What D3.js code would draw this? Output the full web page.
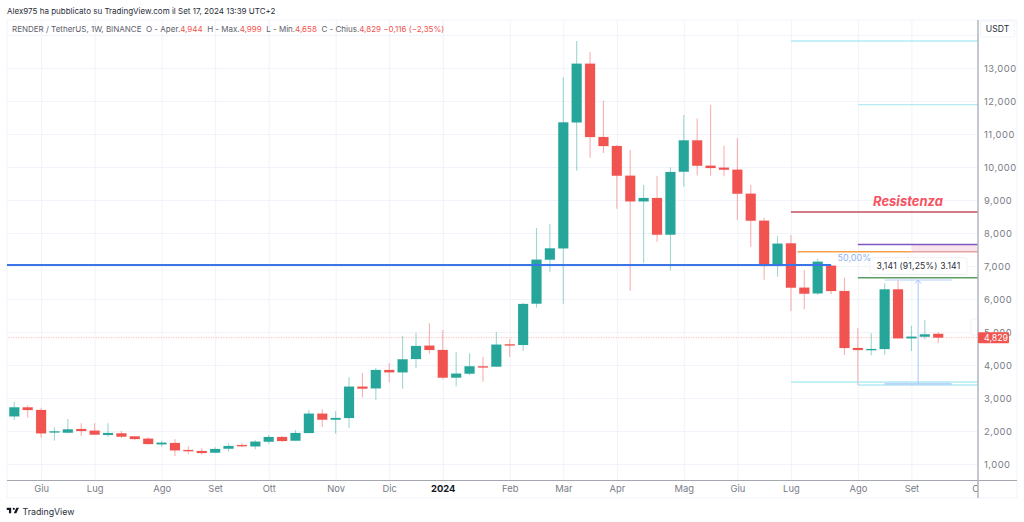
<!DOCTYPE html>
<html>
<head>
<meta charset="utf-8">
<script src="https://cdn.jsdelivr.net/npm/d3@7"></script>
<style>
  html, body { margin: 0; padding: 0; background: #fff; overflow: hidden; }
  svg { display: block; }
  text { font-family: Inter, "Liberation Sans", sans-serif; }
  .grid line { stroke: #f0f3fa; }
  .grid path { display: none; }
  .axis path, .axis line { display: none; }
  .axis text { fill: #787b86; font-size: 9.4px; letter-spacing: 0.5px; font-family: Inter, sans-serif; }
</style>
</head>
<body>
<svg id="svg" width="1024" height="522"></svg>
<script>
// weekly candles
const opens = [2444,2717,2636,1970,1949,2060,2010,1880,1929,1838,1767,1596,1636,1424,1394,1343,1464,1575,1535,1676,1818,1707,1939,2525,2343,2394,3344,3293,3849,3778,4182,4586,4455,3617,3738,3960,3950,4627,4607,5859,7191,7534,11352,13130,10908,10635,9736,8959,9060,7949,9858,10807,10039,9979,9918,9191,8373,7000,7686,6343,6171,7009,6242,4515,4464,4484,6292,4808,4858,4944];
const closes = [2717,2636,1929,1990,2050,2000,1889,1939,1828,1757,1606,1646,1414,1394,1333,1454,1545,1545,1676,1818,1697,1939,2525,2343,2394,3344,3283,3849,3778,4172,4576,4455,3617,3738,3960,3930,4617,4607,5849,7192,7534,11352,13130,10908,10635,9736,8959,9060,7949,9848,10807,10039,9969,9918,9191,8373,7000,7676,6343,6161,7130,6242,4515,4454,4485,6292,4808,4858,4929,4829];
const highs = [2888,2777,2707,2110,2363,2232,2232,2232,2000,1838,1808,1707,1757,1535,1475,1505,1626,1646,1717,1889,1848,2030,2636,2656,2606,3627,3758,3920,4061,4879,4980,5263,5061,4384,4354,4253,5000,4788,5889,8151,8262,12716,13817,13483,12009,10665,10514,9453,9726,9989,11574,11473,11877,10645,10868,9453,8464,7908,7938,6878,7231,7030,6646,5121,4959,6474,6575,5191,5363,4999];
const lows = [2333,2404,1798,1707,1929,1848,1878,1828,1798,1717,1586,1525,1242,1303,1293,1333,1374,1505,1444,1606,1676,1707,1939,2121,1919,2092,3021,2950,3475,3283,3910,4344,3566,3354,3698,3495,3950,4243,4435,5738,6807,5858,9888,10282,10423,8736,6252,7100,7737,6858,9403,9746,9736,9716,8393,7585,6585,6676,5636,5686,6120,6141,4302,3394,4292,4313,4808,4424,4777,4658];

// time axis: week index of each month label
const monthWeeks = [2,6,11,15,19,24,28,32,37,41,45,50,54,58,63,67,72];
const monthLabels = ['Giu','Lug','Ago','Set','Ott','Nov','Dic','2024','Feb','Mar','Apr','Mag','Giu','Lug','Ago','Set','Ott'];
const priceTicks = [1000,2000,3000,4000,5000,6000,7000,8000,9000,10000,11000,12000,13000];
const priceGrid = [1000,2000,3000,4000,5000,6000,7000,8000,9000,10000,11000,12000,13000,14000];

// drawn levels: [price, from week, to week]
const fibLevels = [[13818,58,72],[11893,63,72],[3485,58,72],[3394,63,72]];
const resistLevel = [8636,58,72];
const purpleLevel = [7650,63,72];
const orangeLevel = [7433,58.5,67];
const blueLevel = [7030,-1,61];
const greenLevel = [6645,63,72];
const pinkZone = [7650,7433,67,72];
const measure = {top: 6575, bottom: 3434, from: 65, to: 70, at: 67.5};
const lastPrice = 4829;

const plot = {left: 7, right: 978, top: 20, bottom: 480.5, outer: 1017, foot: 498};

const svg = d3.select('#svg');
const x = d3.scaleLinear().domain([0,69]).range([14.3,938.2]);
const y = d3.scaleLinear().domain([1000,13000]).range([464,68]);
const fmt = d3.format(',');

svg.append('defs').append('clipPath').attr('id','plotclip')
  .append('rect').attr('x',plot.left).attr('y',plot.top)
  .attr('width',plot.right-plot.left).attr('height',plot.foot-plot.top);

// frame
svg.append('rect').attr('x',plot.left).attr('y',plot.top)
  .attr('width',plot.outer-plot.left).attr('height',plot.foot-plot.top)
  .attr('fill','#fff').attr('stroke','#f0f3fa');

// grid
const g = svg.append('g').attr('clip-path','url(#plotclip)');
g.append('g').attr('class','grid')
  .attr('transform',`translate(0,${plot.bottom})`)
  .call(d3.axisBottom(x).tickValues(monthWeeks).tickSize(-(plot.bottom-plot.top)).tickFormat(''));
g.append('g').attr('class','grid')
  .attr('transform',`translate(${plot.left},0)`)
  .call(d3.axisRight(y).tickValues(priceGrid).tickSize(plot.right-plot.left).tickFormat(''));

// last price dotted line
function hline(price, a, b, color, w) {
  return g.append('line')
    .attr('x1',x(a)).attr('x2',x(b)).attr('y1',y(price)).attr('y2',y(price))
    .attr('stroke',color).attr('stroke-width',w);
}
hline(lastPrice,-1,72,'#f7b3b1',1).attr('stroke-dasharray','1 1.5');

// candles
const weeks = d3.range(opens.length);
const col = i => closes[i] >= opens[i] ? '#26a69a' : '#f05350';
g.append('g').selectAll('line').data(weeks).join('line')
  .attr('x1',x).attr('x2',x)
  .attr('y1',i=>y(highs[i])).attr('y2',i=>y(lows[i]))
  .attr('stroke',col).attr('stroke-opacity',0.45).attr('stroke-width',1.1);
g.append('g').selectAll('rect').data(weeks).join('rect')
  .attr('x',i=>x(i)-5).attr('width',10)
  .attr('y',i=>y(Math.max(opens[i],closes[i])))
  .attr('height',i=>Math.max(1.2,Math.abs(y(opens[i])-y(closes[i]))))
  .attr('fill',col).attr('stroke',col).attr('stroke-opacity',0.2).attr('stroke-width',0.8);

// drawings
fibLevels.forEach(l => hline(l[0],l[1],l[2],'#b2ebf2',1.3));
g.append('rect')
  .attr('x',x(pinkZone[2])).attr('width',x(pinkZone[3])-x(pinkZone[2]))
  .attr('y',y(pinkZone[0])).attr('height',y(pinkZone[1])-y(pinkZone[0]))
  .attr('fill','#f9e3ec');
hline(resistLevel[0],resistLevel[1],resistLevel[2],'#c2505f',1.6);
hline(purpleLevel[0],purpleLevel[1],purpleLevel[2],'#7e57c2',1.4);
hline(orangeLevel[0],orangeLevel[1],orangeLevel[2],'#f5a14a',1.6);
hline(orangeLevel[0],pinkZone[2],pinkZone[3],'#e5a3a0',1.6);
hline(greenLevel[0],greenLevel[1],greenLevel[2],'#5d9c63',1.4);
hline(blueLevel[0],blueLevel[1],blueLevel[2],'#3b76e8',2.2);

// long/short measure tool
hline(measure.top,measure.from,measure.to,'#b5d0fb',1);
g.append('rect')
  .attr('x',x(measure.from)).attr('width',x(measure.to)-x(measure.from))
  .attr('y',y(measure.bottom)-1).attr('height',2.4).attr('fill','#bcd6f8');
g.append('line')
  .attr('x1',x(measure.at)).attr('x2',x(measure.at))
  .attr('y1',y(measure.bottom)).attr('y2',y(measure.top))
  .attr('stroke','#a9c6fa').attr('stroke-width',1);
g.append('path')
  .attr('d',d3.line()([[x(measure.at)-3,y(measure.top)+3.5],[x(measure.at),y(measure.top)],[x(measure.at)+3,y(measure.top)+3.5]]))
  .attr('fill','none').attr('stroke','#a9c6fa');

// measure label
g.append('rect').attr('x',870).attr('y',257.5).attr('width',97).attr('height',17).attr('rx',3)
  .attr('fill','#fff').attr('stroke','#f0f1f4');
g.append('text').attr('x',918.5).attr('y',269.3).attr('text-anchor','middle')
  .attr('font-size',8.6).attr('fill','#2a2e39').attr('letter-spacing',0.2)
  .text('3,141 (91,25%) 3.141');

g.append('text').attr('x',837.5).attr('y',261).attr('font-size',9)
  .attr('fill','#8fb4f4').text('50,00%');

g.append('text').attr('x',908).attr('y',206).attr('text-anchor','middle')
  .attr('font-size',13).attr('font-weight',700).attr('font-style','italic')
  .attr('fill','#f7525f').text('Resistenza');

// price axis
svg.append('g').attr('class','axis')
  .attr('transform',`translate(${plot.right},0)`)
  .call(d3.axisRight(y).tickValues(priceTicks).tickSize(0).tickPadding(6).tickFormat(fmt));

// faint box left over from the 5,000 label
svg.append('rect').attr('x',971).attr('y',319).attr('width',8).attr('height',16).attr('rx',2)
  .attr('fill','#fff').attr('stroke','#f0f3fa');

// time axis
const xAxisG = svg.append('g').attr('clip-path','url(#plotclip)');
xAxisG.append('g').attr('class','axis')
  .attr('transform',`translate(0,${plot.bottom})`)
  .call(d3.axisBottom(x).tickValues(monthWeeks).tickSize(0).tickPadding(5)
    .tickFormat((d,i)=>monthLabels[i]))
  .selectAll('text')
    .attr('font-weight',d=>d===32?700:400)
    .style('letter-spacing',0)
    .style('fill',d=>d===32?'#131722':null);

svg.append('line').attr('x1',plot.left).attr('x2',plot.outer)
  .attr('y1',plot.bottom).attr('y2',plot.bottom).attr('stroke','#a4a6b0').attr('stroke-width',1);
svg.append('line').attr('x1',plot.right).attr('x2',plot.right)
  .attr('y1',plot.top).attr('y2',plot.foot).attr('stroke','#b2b5be').attr('stroke-width',1.5);

// last price tag
svg.append('rect').attr('x',plot.right).attr('y',y(lastPrice)-5.5).attr('width',31).attr('height',11)
  .attr('rx',1).attr('fill','#f05350');
svg.append('text').attr('x',984).attr('y',y(lastPrice)+3.1).attr('font-size',8.8).attr('fill','#fff')
  .text(fmt(lastPrice));

// USDT button
svg.append('rect').attr('x',980.5).attr('y',21).attr('width',34).attr('height',16).attr('rx',2)
  .attr('fill','#fff').attr('stroke','#f0f3fa');
svg.append('text').attr('x',997.5).attr('y',32).attr('text-anchor','middle')
  .attr('font-size',8.6).attr('fill','#2a2e39').text('USDT');

// header
svg.append('text').attr('x',7).attr('y',14).attr('font-size',8).attr('fill','#2a2e39')
  .text('Alex975 ha pubblicato su TradingView.com il Set 17, 2024 13:39 UTC+2');

const legend = svg.append('text').attr('x',12).attr('y',31.5).attr('font-size',8).attr('fill','#5d606b');
[
  ['RENDER / TetherUS, 1W, BINANCE  O - Aper.',0],['4,944',1],['  H - Max.',0],['4,999',1],
  ['  L - Min.',0],['4,658',1],['  C - Chius.',0],['4,829',1],[' \u22120,116 (\u22122,35%)',1]
].forEach(p => legend.append('tspan').attr('xml:space','preserve').style('white-space','pre')
  .attr('fill',p[1]?'#f05350':'#5d606b').text(p[0]));

// footer logo
svg.append('path')
  .attr('d','M14 6H2v6h6v9h6V6Zm14 15h-7l7-15h7l-7 15Zm-7-9a3 3 0 1 0 0-6 3 3 0 0 0 0 6Z')
  .attr('transform','translate(6,505.5) scale(0.37)').attr('fill','#131722');
svg.append('text').attr('x',22.5).attr('y',514.5).attr('font-size',8.8).attr('fill','#2a2e39').text('TradingView');
</script>
</body>
</html>
